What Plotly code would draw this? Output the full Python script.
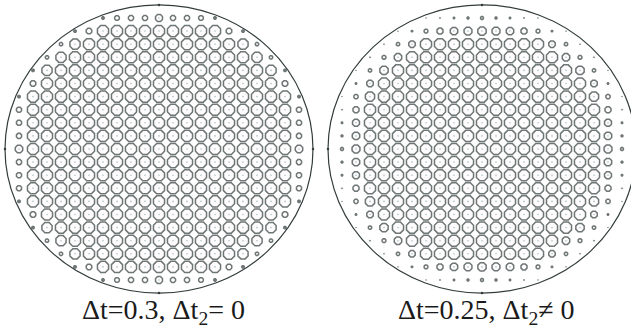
import plotly.graph_objects as go

# ring size at each lattice site, rows top to bottom, columns left to right (0 = empty)
left_sizes = [
    [0, 0, 0, 0, 0, 0, 2.5, 5, 5.5, 5.5, 7.5, 5.5, 5.5, 5, 2.5, 0, 0, 0, 0, 0, 0],
    [0, 0, 0, 0, 2.5, 6, 12, 12, 12, 12, 12, 12, 12, 12, 12, 6, 2.5, 0, 0, 0, 0],
    [0, 0, 0, 3.5, 11, 12, 12, 12, 12, 12, 12, 12, 12, 12, 12, 12, 11, 3.5, 0, 0, 0],
    [0, 0, 3.5, 11, 12, 12, 12, 12, 12, 12, 12, 12, 12, 12, 12, 12, 12, 11, 3.5, 0, 0],
    [0, 2.5, 11, 12, 12, 12, 12, 12, 12, 12, 12, 12, 12, 12, 12, 12, 12, 12, 11, 2.5, 0],
    [0, 6, 12, 12, 12, 12, 12, 12, 12, 12, 12, 12, 12, 12, 12, 12, 12, 12, 12, 6, 0],
    [2.5, 12, 12, 12, 12, 12, 12, 12, 12, 12, 12, 12, 12, 12, 12, 12, 12, 12, 12, 12, 2.5],
    [5.5, 12, 12, 12, 12, 12, 12, 12, 12, 12, 12, 12, 12, 12, 12, 12, 12, 12, 12, 12, 5.5],
    [5.5, 12, 12, 12, 12, 12, 12, 12, 12, 12, 12, 12, 12, 12, 12, 12, 12, 12, 12, 12, 5.5],
    [5.5, 12, 12, 12, 12, 12, 12, 12, 12, 12, 12, 12, 12, 12, 12, 12, 12, 12, 12, 12, 5.5],
    [8, 12, 12, 12, 12, 12, 12, 12, 12, 12, 12, 12, 12, 12, 12, 12, 12, 12, 12, 12, 8],
    [5.5, 12, 12, 12, 12, 12, 12, 12, 12, 12, 12, 12, 12, 12, 12, 12, 12, 12, 12, 12, 5.5],
    [5.5, 12, 12, 12, 12, 12, 12, 12, 12, 12, 12, 12, 12, 12, 12, 12, 12, 12, 12, 12, 5.5],
    [5.5, 12, 12, 12, 12, 12, 12, 12, 12, 12, 12, 12, 12, 12, 12, 12, 12, 12, 12, 12, 5.5],
    [2.5, 12, 12, 12, 12, 12, 12, 12, 12, 12, 12, 12, 12, 12, 12, 12, 12, 12, 12, 12, 2.5],
    [0, 6, 12, 12, 12, 12, 12, 12, 12, 12, 12, 12, 12, 12, 12, 12, 12, 12, 12, 6, 0],
    [0, 2.5, 11, 12, 12, 12, 12, 12, 12, 12, 12, 12, 12, 12, 12, 12, 12, 12, 11, 2.5, 0],
    [0, 0, 3.5, 11, 12, 12, 12, 12, 12, 12, 12, 12, 12, 12, 12, 12, 12, 11, 3.5, 0, 0],
    [0, 0, 0, 3.5, 11, 12, 12, 12, 12, 12, 12, 12, 12, 12, 12, 12, 11, 3.5, 0, 0, 0],
    [0, 0, 0, 0, 2.5, 6, 12, 12, 12, 12, 12, 12, 12, 12, 12, 6, 2.5, 0, 0, 0, 0],
    [0, 0, 0, 0, 0, 0, 2.5, 5, 5.5, 5.5, 7.5, 5.5, 5.5, 5, 2.5, 0, 0, 0, 0, 0, 0],
]

right_sizes = [
    [0, 0, 0, 0, 0, 0, 0.6, 1, 1.5, 2, 3, 2, 1.5, 1, 0.6, 0, 0, 0, 0, 0, 0],
    [0, 0, 0, 0, 0.6, 1.5, 4, 6.5, 8, 8.5, 9, 8.5, 8, 6.5, 4, 1.5, 0.6, 0, 0, 0, 0],
    [0, 0, 0, 0.8, 3.5, 7, 12, 12, 12, 12, 12, 12, 12, 12, 12, 7, 3.5, 0.8, 0, 0, 0],
    [0, 0, 1, 4, 8, 12, 12, 12, 12, 12, 12, 12, 12, 12, 12, 12, 8, 4, 1, 0, 0],
    [0, 0.6, 3.5, 9, 12, 12, 12, 12, 12, 12, 12, 12, 12, 12, 12, 12, 12, 9, 3.5, 0.6, 0],
    [0, 1.5, 7, 12, 12, 12, 12, 12, 12, 12, 12, 12, 12, 12, 12, 12, 12, 12, 7, 1.5, 0],
    [0.6, 4.5, 10, 12, 12, 12, 12, 12, 12, 12, 12, 12, 12, 12, 12, 12, 12, 12, 10, 4.5, 0.6],
    [1, 6.5, 12, 12, 12, 12, 12, 12, 12, 12, 12, 12, 12, 12, 12, 12, 12, 12, 12, 6.5, 1],
    [1.5, 7.5, 12, 12, 12, 12, 12, 12, 12, 12, 12, 12, 12, 12, 12, 12, 12, 12, 12, 7.5, 1.5],
    [2, 8, 12, 12, 12, 12, 12, 12, 12, 12, 12, 12, 12, 12, 12, 12, 12, 12, 12, 8, 2],
    [3, 8.5, 12, 12, 12, 12, 12, 12, 12, 12, 12, 12, 12, 12, 12, 12, 12, 12, 12, 8.5, 3],
    [2, 8, 12, 12, 12, 12, 12, 12, 12, 12, 12, 12, 12, 12, 12, 12, 12, 12, 12, 8, 2],
    [1.5, 7.5, 12, 12, 12, 12, 12, 12, 12, 12, 12, 12, 12, 12, 12, 12, 12, 12, 12, 7.5, 1.5],
    [1, 6.5, 12, 12, 12, 12, 12, 12, 12, 12, 12, 12, 12, 12, 12, 12, 12, 12, 12, 6.5, 1],
    [0.6, 4.5, 10, 12, 12, 12, 12, 12, 12, 12, 12, 12, 12, 12, 12, 12, 12, 12, 10, 4.5, 0.6],
    [0, 1.5, 7, 12, 12, 12, 12, 12, 12, 12, 12, 12, 12, 12, 12, 12, 12, 12, 7, 1.5, 0],
    [0, 0.6, 3.5, 9, 12, 12, 12, 12, 12, 12, 12, 12, 12, 12, 12, 12, 12, 9, 3.5, 0.6, 0],
    [0, 0, 1, 4, 8, 12, 12, 12, 12, 12, 12, 12, 12, 12, 12, 12, 8, 4, 1, 0, 0],
    [0, 0, 0, 0.8, 3.5, 7, 12, 12, 12, 12, 12, 12, 12, 12, 12, 7, 3.5, 0.8, 0, 0, 0],
    [0, 0, 0, 0, 0.6, 1.5, 4, 6.5, 8, 8.5, 9, 8.5, 8, 6.5, 4, 1.5, 0.6, 0, 0, 0, 0],
    [0, 0, 0, 0, 0, 0, 0.6, 1, 1.5, 2, 3, 2, 1.5, 1, 0.6, 0, 0, 0, 0, 0, 0],
]

lattice = list(range(-10, 11))
edge_x = [0, 11, 0, -11]
edge_y = [11, 0, -11, 0]
left_label = "Δt=0.3, Δt<sub>2</sub>= 0"
right_label = "Δt=0.25, Δt<sub>2</sub>≠ 0"

RING = "#333d3d"
PX_X, PX_Y = 14, 13.1
CY = 149
FONT = "Liberation Serif"

fig = go.Figure()


def add_panel(sizes, suffix, label):
    axes = dict(xaxis="x" + suffix, yaxis="y" + suffix, hoverinfo="skip", mode="markers")
    xs, ys, ss = [], [], []
    for row, vals in zip(lattice, sizes):
        for col, s in zip(lattice, vals):
            if s > 0:
                xs.append(col)
                ys.append(-row)
                ss.append(s)

    fig.add_trace(go.Scatter(x=xs, y=ys, **axes,
                             marker=dict(symbol="octagon", size=ss,
                                         color=[RING if s < 3 else "#fefcfb" for s in ss],
                                         line=dict(color=RING, width=[1 if s < 1.5 else 1.5 for s in ss]))))
    big_x = [x for x, s in zip(xs, ss) if s >= 7]
    big_y = [y for y, s in zip(ys, ss) if s >= 7]
    fig.add_trace(go.Scatter(x=big_x, y=big_y, **axes, marker=dict(size=1.6, color="#a9c3cc")))
    fig.add_trace(go.Scatter(x=edge_x, y=edge_y, **axes, marker=dict(size=2.5, color=RING)))
    fig.add_shape(type="circle", xref="x" + suffix, yref="y" + suffix, x0=-11, x1=11, y0=-11, y1=11,
                  line=dict(color=RING, width=1.2), layer="below")
    fig.add_annotation(text=label, xref="x" + suffix, yref="y" + suffix, x=0.3, y=-12.4, showarrow=False,
                       font=dict(family=FONT, size=28, color="#1a1a1a"))


add_panel(left_sizes, "", left_label)
add_panel(right_sizes, "2", right_label)

hidden = dict(visible=False, fixedrange=True)
fig.update_layout(
    width=631, height=332, margin=dict(l=0, r=0, t=0, b=0),
    paper_bgcolor="white", plot_bgcolor="white", showlegend=False,
    xaxis=dict(domain=[0, 0.5], range=[-159 / PX_X, (315.5 - 159) / PX_X], **hidden),
    yaxis=dict(domain=[0, 1], range=[-(332 - CY) / PX_Y, CY / PX_Y], **hidden),
    xaxis2=dict(domain=[0.5, 1], range=[(315.5 - 482) / PX_X, (631 - 482) / PX_X], **hidden),
    yaxis2=dict(domain=[0, 1], range=[-(332 - CY) / PX_Y, CY / PX_Y], **hidden),
)

fig.write_html("out.html", config=dict(displayModeBar=False), post_script="document.body.style.margin='0';")
